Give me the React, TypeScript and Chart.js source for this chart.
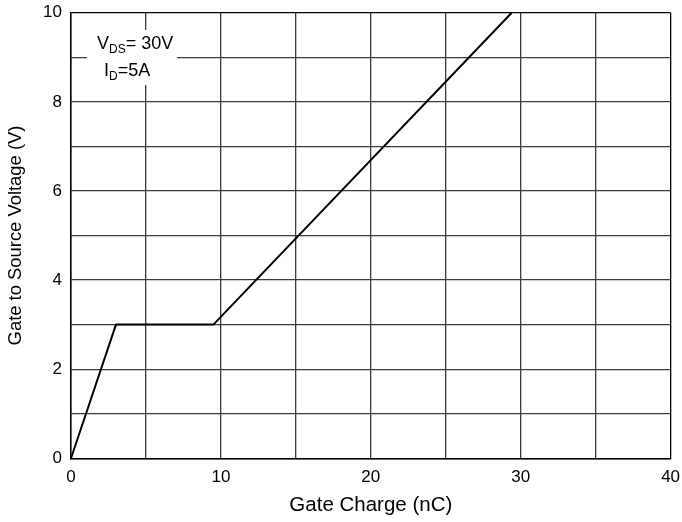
import React, { useEffect, useRef } from "react";
import { Chart, registerables } from "chart.js";

Chart.register(...registerables);

const gateCharge = [0, 3, 9.5, 29.4];
const gateVoltage = [0, 3, 3, 10];
const xTickLabels = [0, 10, 20, 30, 40];
const yTickLabels = [0, 2, 4, 6, 8, 10];
const xTitle = "Gate Charge (nC)";
const yTitle = "Gate to Source Voltage (V)";

const FONT = "'Liberation Sans', Arial, Helvetica, sans-serif";

const annotationPlugin = {
  id: "vdsNote",
  afterDraw(chart: any) {
    const ctx = chart.ctx;
    ctx.save();
    ctx.fillStyle = "#ffffff";
    ctx.fillRect(87, 30, 90, 55);
    ctx.fillStyle = "#000";
    ctx.textBaseline = "alphabetic";
    const big = `18px ${FONT}`;
    const small = `12px ${FONT}`;
    let x = 97;
    ctx.font = big;
    ctx.fillText("V", x, 49);
    x += ctx.measureText("V").width;
    ctx.font = small;
    ctx.fillText("DS", x, 53);
    x += ctx.measureText("DS").width;
    ctx.font = big;
    ctx.fillText("= 30V", x, 49);
    x = 104;
    ctx.fillText("I", x, 76);
    x += ctx.measureText("I").width;
    ctx.font = small;
    ctx.fillText("D", x, 80);
    x += ctx.measureText("D").width;
    ctx.font = big;
    ctx.fillText("=5A", x, 76);
    ctx.restore();
  },
};

export default function App() {
  const ref = useRef<HTMLCanvasElement | null>(null);
  useEffect(() => {
    if (!ref.current) return;
    const chart = new Chart(ref.current, {
      type: "scatter",
      data: {
        datasets: [
          {
            data: gateCharge.map((x, i) => ({ x, y: gateVoltage[i] })),
            showLine: true,
            borderColor: "#000",
            borderWidth: 2,
            pointRadius: 0,
            fill: false,
          },
        ],
      },
      options: {
        animation: false,
        responsive: false,
        maintainAspectRatio: false,
        layout: { padding: { top: 12.7, right: 11.4, left: 0, bottom: 0 } },
        plugins: { legend: { display: false }, tooltip: { enabled: false } },
        scales: {
          x: {
            type: "linear",
            min: 0,
            max: 40,
            ticks: {
              stepSize: 5,
              color: "#000",
              font: { family: FONT, size: 17 },
              padding: 9,
              maxRotation: 0,
              autoSkip: false,
              callback: (v: any) => (xTickLabels.includes(Number(v)) ? String(v) : ""),
            },
            grid: {
              color: (c: any) => (c.tick && c.tick.value === 40 ? "#000" : "#3a3a3a"),
              lineWidth: 1.3,
              drawTicks: false,
            },
            border: { color: "#000", width: 1.5 },
            title: {
              display: true,
              text: xTitle,
              color: "#000",
              font: { family: FONT, size: 20.5 },
              padding: { top: 0, bottom: 4 },
            },
            afterFit: (s: any) => {
              s.height = 63.7;
              s.paddingLeft = 0;
              s.paddingRight = 0;
            },
          },
          y: {
            type: "linear",
            min: 0,
            max: 10,
            ticks: {
              stepSize: 1,
              color: "#000",
              font: { family: FONT, size: 17 },
              padding: 9,
              autoSkip: false,
              callback: (v: any) => (yTickLabels.includes(Number(v)) ? String(v) : ""),
            },
            grid: {
              color: (c: any) => (c.tick && c.tick.value === 10 ? "#000" : "#3a3a3a"),
              lineWidth: 1.3,
              drawTicks: false,
            },
            border: { color: "#000", width: 1.5 },
            title: {
              display: true,
              text: yTitle,
              color: "#000",
              font: { family: FONT, size: 18.4 },
              padding: { top: 5, bottom: 0 },
            },
            afterFit: (s: any) => {
              s.width = 71;
              s.paddingTop = 0;
              s.paddingBottom = 0;
            },
          },
        },
      },
      plugins: [annotationPlugin],
    });
    return () => chart.destroy();
  }, []);
  return (
    <div style={{ position: "fixed", left: 0, top: 0, width: 682, height: 522, background: "#fff" }}>
      <canvas ref={ref} width={682} height={522} style={{ width: 682, height: 522 }} />
    </div>
  );
}
